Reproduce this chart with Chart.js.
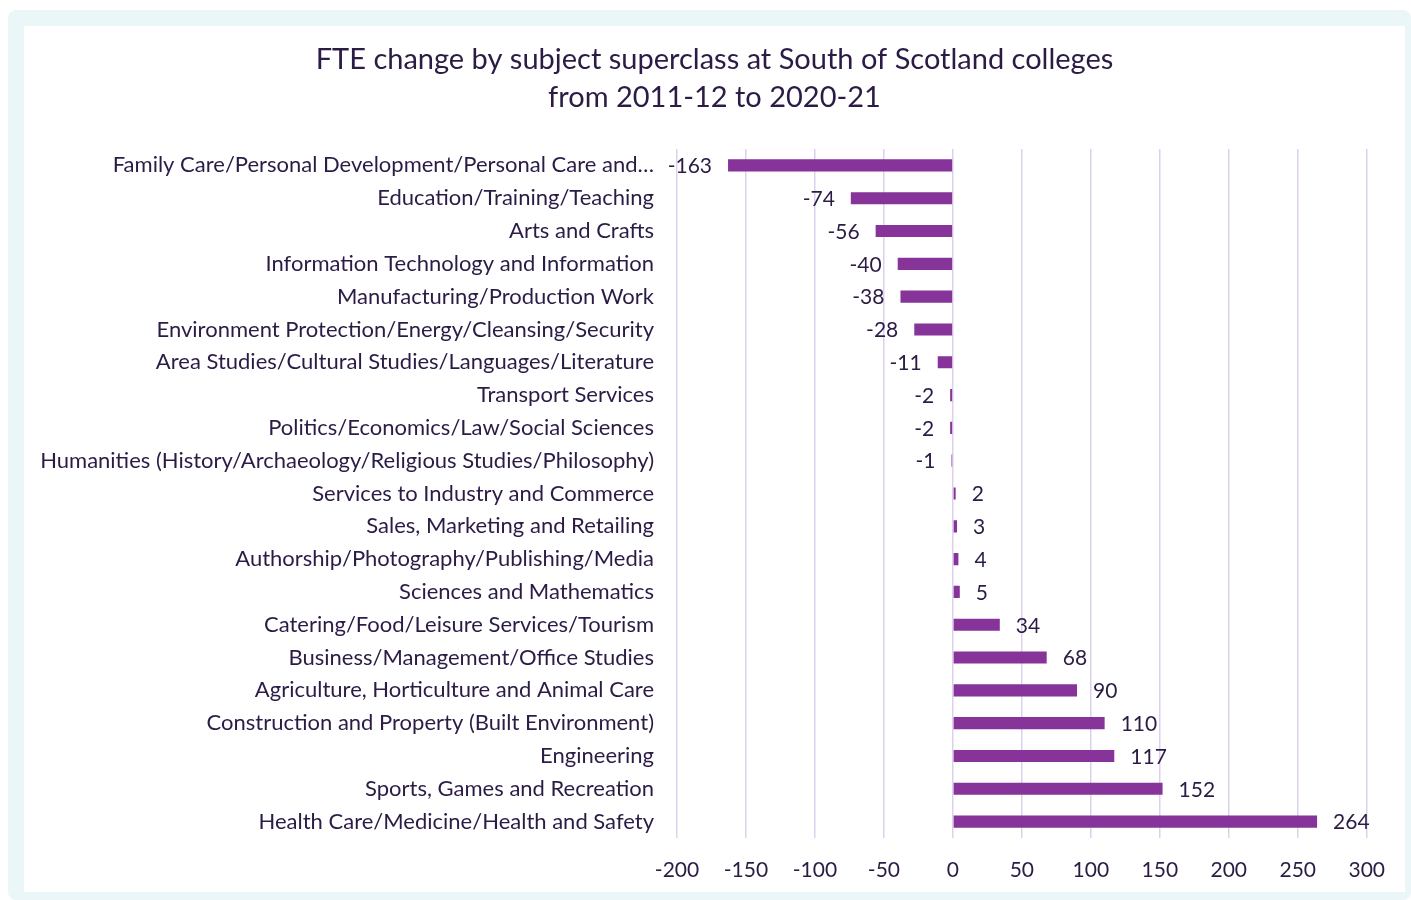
<!DOCTYPE html>
<html lang="en">
<head>
  <meta charset="UTF-8" />
  <title>FTE change by subject superclass</title>
  <script src="https://cdn.jsdelivr.net/npm/chart.js"></script>
  <style>
    body { margin: 0; background: #ffffff; }
    .moldura {
      position: absolute; left: 8px; top: 10px; width: 1403px; height: 890px;
      background: #eaf6f7; border-radius: 8px;
    }
    .painel {
      position: absolute; left: 16px; top: 16px; width: 1381px; height: 866px;
      background: #ffffff;
    }
  </style>
</head>
<body>
  <div class="moldura">
    <div class="painel">
      <canvas id="fteChart" width="1381" height="866"></canvas>
    </div>
  </div>

  <script>
    // subject superclasses, top to bottom
    var categorias = [
      "Family Care/Personal Development/Personal Care and\u2026",
      "Education/Training/Teaching",
      "Arts and Crafts",
      "Information Technology and Information",
      "Manufacturing/Production Work",
      "Environment Protection/Energy/Cleansing/Security",
      "Area Studies/Cultural Studies/Languages/Literature",
      "Transport Services",
      "Politics/Economics/Law/Social Sciences",
      "Humanities (History/Archaeology/Religious Studies/Philosophy)",
      "Services to Industry and Commerce",
      "Sales, Marketing and Retailing",
      "Authorship/Photography/Publishing/Media",
      "Sciences and Mathematics",
      "Catering/Food/Leisure Services/Tourism",
      "Business/Management/Office Studies",
      "Agriculture, Horticulture and Animal Care",
      "Construction and Property (Built Environment)",
      "Engineering",
      "Sports, Games and Recreation",
      "Health Care/Medicine/Health and Safety"
    ];

    // FTE change 2011-12 to 2020-21
    var variacaoFTE = [-163, -74, -56, -40, -38, -28, -11, -2, -2, -1, 2, 3, 4, 5, 34, 68, 90, 110, 117, 152, 264];

    var titulo = ['FTE change by subject superclass at South of Scotland colleges', 'from 2011-12 to 2020-21'];

    var eixoMin = -200;
    var eixoMax = 300;
    var passo = 50;

    var corTexto = '#2b1b45';
    var fonte = 'Lato';

    // titulo centrado no painel inteiro (o do Chart.js centra sem o padding)
    var tituloCentrado = {
      id: 'tituloCentrado',
      afterDraw: function (chart) {
        var ctx = chart.ctx;
        ctx.save();
        ctx.font = '29px ' + fonte;
        ctx.fillStyle = corTexto;
        ctx.textAlign = 'center';
        ctx.textBaseline = 'middle';
        for (var i = 0; i < titulo.length; i++) {
          ctx.fillText(titulo[i], chart.width / 2, 34 + i * 38);
        }
        ctx.restore();
      }
    };

    // rotulos de valor ao lado de cada barra
    var rotulosBarras = {
      id: 'rotulosBarras',
      afterDatasetsDraw: function (chart) {
        var ctx = chart.ctx;
        var meta = chart.getDatasetMeta(0);
        ctx.save();
        ctx.font = '21px ' + fonte;
        ctx.fillStyle = corTexto;
        ctx.textBaseline = 'middle';
        for (var i = 0; i < meta.data.length; i++) {
          var barra = meta.data[i];
          var v = chart.data.datasets[0].data[i];
          if (v < 0) {
            ctx.textAlign = 'right';
            ctx.fillText(String(v), barra.x - 16, barra.y + 1);
          } else {
            ctx.textAlign = 'left';
            ctx.fillText(String(v), barra.x + 16, barra.y + 1);
          }
        }
        ctx.restore();
      }
    };

    var ctxGrafico = document.getElementById('fteChart').getContext('2d');
    new Chart(ctxGrafico, {
      type: 'bar',
      data: {
        labels: categorias,
        datasets: [{
          data: variacaoFTE,
          backgroundColor: '#86339a',
          borderWidth: 0,
          categoryPercentage: 1,
          barPercentage: 0.37
        }]
      },
      plugins: [rotulosBarras, tituloCentrado],
      options: {
        indexAxis: 'y',
        responsive: false,
        animation: false,
        layout: { padding: { top: 123, right: 38, bottom: 0, left: 0 } },
        plugins: {
          legend: { display: false },
          tooltip: { enabled: false },
          title: { display: false }
        },
        scales: {
          x: {
            min: eixoMin,
            max: eixoMax,
            ticks: {
              stepSize: passo,
              color: corTexto,
              font: { family: fonte, size: 21 },
              padding: 20
            },
            grid: { color: '#ddd0ee', lineWidth: 1.5, drawTicks: false },
            border: { display: false },
            afterFit: function (escala) { escala.height = 54; }
          },
          y: {
            ticks: {
              color: corTexto,
              font: { family: fonte, size: 22 },
              padding: 15,
              autoSkip: false
            },
            grid: { display: false },
            border: { display: false },
            afterFit: function (escala) { escala.width = 653; }
          }
        }
      }
    });
  </script>
</body>
</html>
